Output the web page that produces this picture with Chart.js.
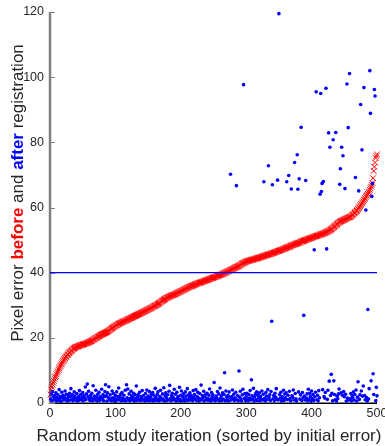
<!DOCTYPE html>
<html>
<head>
<meta charset="utf-8">
<script src="https://cdn.jsdelivr.net/npm/chart.js@4.4.1/dist/chart.umd.min.js"></script>
<style>
  html, body { margin: 0; padding: 0; background: #ffffff; }
  #c { display: block; }
</style>
</head>
<body>
<canvas id="c" width="385" height="446"></canvas>
<script>
// ---------------- DATA ----------------
const xTickValues = [0, 100, 200, 300, 400, 500];
const yTickValues = [0, 20, 40, 60, 80, 100, 120];
const thresholdError = 40;

// Pixel error before registration (sorted ascending), iteration 1..500
const beforeErrors = [
  2.6, 4.0, 4.9, 5.6, 6.2, 6.8, 7.4, 7.9, 8.2, 8.8,
  9.3, 9.7, 10.2, 10.6, 11.0, 11.4, 11.8, 12.1, 12.5, 12.9,
  13.2, 13.5, 13.8, 14.1, 14.3, 14.6, 14.8, 15.0, 15.3, 15.5,
  15.7, 15.9, 16.1, 16.3, 16.5, 16.7, 16.8, 16.9, 17.1, 17.2,
  17.3, 17.3, 17.4, 17.5, 17.6, 17.7, 17.7, 17.8, 17.9, 17.9,
  18.0, 18.1, 18.1, 18.2, 18.3, 18.4, 18.4, 18.5, 18.6, 18.7,
  18.8, 18.9, 19.0, 19.1, 19.3, 19.4, 19.5, 19.6, 19.8, 19.9,
  20.0, 20.1, 20.3, 20.4, 20.5, 20.6, 20.8, 20.9, 21.0, 21.1,
  21.2, 21.3, 21.4, 21.5, 21.6, 21.7, 21.8, 21.9, 22.1, 22.2,
  22.4, 22.5, 22.7, 22.8, 23.0, 23.1, 23.3, 23.4, 23.5, 23.7,
  23.8, 23.9, 24.0, 24.2, 24.3, 24.4, 24.5, 24.6, 24.7, 24.8,
  24.9, 25.0, 25.0, 25.1, 25.2, 25.3, 25.4, 25.5, 25.6, 25.7,
  25.8, 25.9, 26.0, 26.1, 26.2, 26.3, 26.4, 26.5, 26.6, 26.7,
  26.8, 26.9, 27.0, 27.1, 27.2, 27.3, 27.4, 27.5, 27.6, 27.7,
  27.8, 27.9, 28.0, 28.1, 28.2, 28.3, 28.4, 28.5, 28.6, 28.7,
  28.8, 28.9, 29.0, 29.1, 29.2, 29.3, 29.4, 29.6, 29.7, 29.8,
  29.9, 30.0, 30.1, 30.2, 30.4, 30.5, 30.7, 30.8, 31.0, 31.1,
  31.3, 31.4, 31.5, 31.7, 31.8, 31.9, 32.1, 32.2, 32.3, 32.4,
  32.5, 32.6, 32.7, 32.8, 32.9, 33.0, 33.1, 33.1, 33.2, 33.3,
  33.4, 33.5, 33.6, 33.7, 33.8, 33.9, 34.0, 34.1, 34.2, 34.3,
  34.4, 34.5, 34.6, 34.7, 34.8, 34.9, 35.0, 35.1, 35.2, 35.3,
  35.4, 35.5, 35.6, 35.7, 35.8, 35.9, 35.9, 36.0, 36.1, 36.2,
  36.3, 36.4, 36.5, 36.5, 36.6, 36.7, 36.8, 36.9, 36.9, 37.0,
  37.1, 37.1, 37.2, 37.3, 37.4, 37.4, 37.5, 37.6, 37.7, 37.7,
  37.8, 37.9, 38.0, 38.0, 38.1, 38.2, 38.3, 38.3, 38.4, 38.5,
  38.6, 38.6, 38.7, 38.8, 38.9, 39.0, 39.0, 39.1, 39.2, 39.3,
  39.4, 39.4, 39.5, 39.6, 39.7, 39.8, 39.9, 40.0, 40.1, 40.2,
  40.3, 40.4, 40.5, 40.6, 40.7, 40.8, 40.9, 41.0, 41.1, 41.2,
  41.3, 41.4, 41.5, 41.6, 41.7, 41.8, 41.9, 42.0, 42.1, 42.3,
  42.4, 42.5, 42.7, 42.8, 42.9, 43.0, 43.1, 43.2, 43.3, 43.4,
  43.5, 43.5, 43.6, 43.7, 43.7, 43.8, 43.9, 43.9, 44.0, 44.0,
  44.1, 44.1, 44.2, 44.3, 44.3, 44.4, 44.4, 44.5, 44.6, 44.6,
  44.7, 44.8, 44.8, 44.9, 45.0, 45.0, 45.1, 45.2, 45.2, 45.3,
  45.4, 45.4, 45.5, 45.6, 45.6, 45.7, 45.8, 45.8, 45.9, 46.0,
  46.0, 46.1, 46.2, 46.3, 46.3, 46.4, 46.5, 46.6, 46.6, 46.7,
  46.8, 46.9, 46.9, 47.0, 47.1, 47.2, 47.3, 47.3, 47.4, 47.5,
  47.6, 47.7, 47.8, 47.8, 47.9, 48.0, 48.1, 48.2, 48.3, 48.4,
  48.4, 48.5, 48.6, 48.7, 48.8, 48.8, 48.9, 49.0, 49.1, 49.2,
  49.2, 49.3, 49.4, 49.5, 49.6, 49.6, 49.7, 49.8, 49.9, 50.0,
  50.0, 50.1, 50.2, 50.3, 50.3, 50.4, 50.5, 50.6, 50.6, 50.7,
  50.8, 50.9, 50.9, 51.0, 51.1, 51.2, 51.2, 51.3, 51.4, 51.4,
  51.5, 51.6, 51.7, 51.7, 51.8, 51.9, 51.9, 52.0, 52.1, 52.2,
  52.3, 52.4, 52.5, 52.6, 52.7, 52.8, 52.9, 53.0, 53.2, 53.3,
  53.5, 53.7, 53.8, 54.0, 54.2, 54.4, 54.5, 54.7, 54.9, 55.1,
  55.3, 55.4, 55.6, 55.7, 55.8, 55.9, 56.0, 56.1, 56.2, 56.3,
  56.4, 56.5, 56.6, 56.7, 56.8, 56.9, 57.0, 57.0, 57.1, 57.2,
  57.4, 57.6, 57.8, 58.0, 58.2, 58.4, 58.6, 58.8, 59.0, 59.2,
  59.5, 59.8, 60.1, 60.4, 60.7, 61.0, 61.3, 61.6, 61.9, 62.3,
  62.6, 62.9, 63.3, 63.6, 63.9, 64.2, 64.6, 64.9, 65.4, 65.9,
  66.4, 66.9, 67.5, 69.0, 71.2, 72.5, 73.8, 75.2, 75.8, 76.3
];

// Pixel error after registration, typical (small) values, iteration 1..500
const afterErrorsTypical = [
  1.2, 2.8, 0.7, 3.5, 1.9, 0.9, 2.3, 1.4, 3.1, 0.6, 1.7, 2.6, 0.8, 4.1, 1.3, 2.0, 0.5, 3.3, 1.6, 2.4,
  0.9, 1.8, 3.7, 1.1, 2.7, 0.6, 1.5, 2.2, 0.8, 3.0, 1.9, 4.4, 1.0, 2.5, 0.7, 1.6, 3.4, 2.1, 1.2, 0.8,
  2.9, 1.4, 0.6, 2.0, 3.8, 1.1, 2.6, 0.9, 1.7, 3.2, 0.7, 2.3, 1.5, 4.9, 1.0, 2.8, 5.8, 1.9, 3.6, 1.3,
  0.8, 2.4, 1.6, 3.0, 0.7, 5.3, 1.2, 2.1, 0.9, 3.9, 1.8, 0.6, 2.7, 1.4, 3.3, 0.8, 2.0, 1.1, 4.2, 1.5,
  2.6, 0.7, 1.9, 3.5, 5.6, 2.2, 0.6, 3.1, 1.7, 5.0, 0.9, 2.5, 1.3, 0.7, 3.7, 1.6, 2.9, 0.8, 1.4, 2.3,
  0.6, 3.4, 1.2, 2.0, 4.6, 0.9, 1.8, 2.7, 0.7, 3.2, 1.5, 0.8, 2.4, 1.1, 3.9, 0.6, 5.6, 1.6, 4.3, 1.0,
  2.8, 0.7, 1.4, 3.6, 2.2, 0.9, 1.7, 3.0, 0.6, 2.5, 1.3, 5.2, 0.8, 1.9, 2.6, 1.1, 3.3, 0.7, 2.0, 1.5,
  3.8, 0.9, 2.3, 1.2, 0.6, 2.9, 1.6, 4.0, 0.8, 2.1, 1.4, 3.5, 0.7, 1.8, 2.7, 1.0, 3.2, 0.6, 2.4, 1.3,
  4.5, 1.7, 0.8, 2.6, 3.4, 1.1, 0.7, 2.0, 3.9, 1.5, 0.9, 2.8, 1.2, 4.7, 0.6, 2.2, 3.1, 1.6, 0.8, 2.5,
  1.0, 3.6, 5.4, 1.4, 0.7, 2.3, 3.0, 1.8, 0.9, 4.2, 1.2, 2.7, 0.6, 3.3, 1.5, 2.0, 0.8, 4.8, 1.1, 2.4,
  3.7, 0.7, 1.9, 2.8, 1.3, 0.6, 3.4, 2.1, 1.0, 4.4, 0.8, 2.5, 1.6, 3.1, 0.9, 2.2, 1.4, 0.7, 3.8, 1.7,
  2.6, 1.1, 4.1, 0.8, 2.0, 3.3, 1.5, 0.6, 2.9, 1.2, 5.5, 0.9, 2.3, 1.7, 3.6, 0.7, 1.9, 2.7, 1.0, 3.0,
  1.4, 0.8, 2.4, 4.3, 1.1, 0.6, 3.2, 1.8, 2.5, 0.9, 6.3, 1.3, 0.7, 2.1, 1.6, 3.5, 1.0, 2.8, 0.6, 4.6,
  1.5, 2.2, 0.8, 3.1, 1.2, 2.6, 1.4, 0.7, 3.7, 1.9, 1.1, 2.4, 0.6, 3.4, 1.7, 2.3, 0.9, 2.0, 4.0, 1.3,
  2.7, 0.8, 1.6, 3.3, 1.5, 1.0, 2.3, 0.7, 1.8, 1.8, 3.6, 1.2, 0.6, 2.5, 4.2, 2.1, 1.4, 2.9, 0.8, 2.0,
  3.0, 1.1, 0.7, 2.6, 1.5, 3.8, 0.9, 1.6, 2.2, 1.3, 4.5, 0.6, 1.9, 2.8, 1.0, 3.4, 0.8, 2.4, 1.6, 3.1,
  0.7, 2.0, 1.2, 3.7, 0.9, 2.7, 1.8, 1.4, 0.6, 3.2, 2.1, 1.0, 4.1, 2.2, 1.7, 2.5, 0.8, 3.5, 1.1, 1.9,
  1.3, 2.3, 0.7, 3.0, 1.8, 4.4, 1.1, 2.4, 0.9, 1.5, 2.6, 1.5, 3.3, 0.6, 2.0, 1.2, 3.9, 0.8, 2.8, 1.6,
  3.1, 2.0, 1.0, 2.4, 1.3, 3.6, 1.4, 0.7, 2.1, 2.2, 1.8, 4.0, 0.9, 1.5, 2.9, 1.3, 0.6, 2.7, 1.1, 3.4,
  1.9, 1.2, 2.5, 0.8, 0.8, 3.2, 1.7, 2.3, 2.1, 0.9, 1.6, 1.5, 2.8, 0.7, 4.2, 1.1, 3.0, 2.0, 0.6, 3.7,
  1.4, 2.6, 0.8, 3.5, 1.9, 3.3, 1.2, 1.0, 2.4, 0.7, 3.8, 1.6, 2.2, 0.9, 2.9, 1.3, 4.1, 0.6, 2.0, 1.5,
  3.2, 0.8, 2.5, 1.1, 3.9, 1.7, 6.7, 0.9, 2.3, 1.4, 3.0, 0.7, 1.8, 6.8, 2.6, 1.0, 3.6, 0.6, 2.1, 1.3,
  2.8, 4.3, 0.8, 1.6, 3.1, 1.0, 2.4, 0.7, 3.5, 1.9, 1.2, 2.7, 0.6, 3.8, 1.5, 2.0, 0.9, 4.6, 1.3, 2.9,
  0.7, 2.2, 1.6, 3.4, 0.9, 2.6, 1.2, 4.0, 0.6, 1.8, 6.5, 3.0, 1.1, 2.5, 0.8, 3.7, 1.4, 2.1, 5.2, 0.7,
  2.3, 1.0, 3.3, 1.7, 0.6, 2.8, 1.2, 4.4, 0.9, 2.0, 6.8, 1.5, 3.1, 0.8, 2.6, 1.1, 3.9, 0.7, 4.8, 2.2
];

// Iterations (0-based index) where the registration failed or was poor, with their error
const afterOutlierIndex = [
  266, 275, 284, 288, 295, 307, 326, 333, 338, 339,
  347, 349, 361, 364, 368, 373, 377, 378, 380, 383,
  387, 390, 403, 406, 412, 413, 414, 415, 417, 421,
  422, 425, 427, 429, 432, 436, 442, 443, 445, 447,
  450, 453, 455, 457, 466, 471, 474, 476, 479, 482,
  485, 488, 489, 491, 492, 493, 495, 496
];
const afterOutlierError = [
  9.3, 70.2, 66.7, 9.8, 97.7, 7.1, 67.9, 72.8, 25.1, 67.0,
  68.4, 119.5, 67.9, 69.8, 65.7, 73.8, 76.2, 65.6, 68.8, 84.6,
  26.9, 68.3, 47.0, 95.5, 64.1, 95.0, 64.9, 67.4, 68.0, 96.6,
  47.3, 82.9, 78.5, 8.8, 80.8, 83.0, 67.1, 71.9, 78.5, 75.9,
  65.8, 97.9, 84.5, 101.1, 69.2, 65.1, 91.6, 77.7, 96.8, 59.2,
  28.7, 102.0, 88.9, 63.4, 67.4, 9.0, 96.2, 94.2
];

// ---------------- BUILD ----------------
const afterErrors = afterErrorsTypical.slice();
afterOutlierIndex.forEach((idx, k) => { afterErrors[idx] = afterOutlierError[k]; });

const beforePoints = beforeErrors.map((v, i) => ({ x: i + 1, y: v }));
const afterPoints = afterErrors.map((v, i) => ({ x: i + 1, y: v }));
const thresholdPoints = [{ x: xTickValues[0], y: thresholdError }, { x: xTickValues[xTickValues.length - 1], y: thresholdError }];

const FONT = '"Liberation Sans", Arial, Helvetica, sans-serif';
const TEXT = '#262626';

const axesPlugin = {
  id: 'matlabAxes',
  beforeDatasetsDraw(chart) {
    const { ctx, chartArea: a, scales: { x, y } } = chart;
    ctx.save();
    // bottom axis (black)
    ctx.strokeStyle = '#000000';
    ctx.lineWidth = 1.5;
    ctx.beginPath();
    ctx.moveTo(a.left, a.bottom + 0.25);
    ctx.lineTo(a.right, a.bottom + 0.25);
    ctx.stroke();
    ctx.lineWidth = 1;
    x.ticks.forEach((t, i) => {
      const px = Math.round(x.getPixelForTick(i)) - 0.5;
      ctx.beginPath();
      ctx.moveTo(px, a.bottom);
      ctx.lineTo(px, a.bottom - 4);
      ctx.stroke();
    });
    // left axis (grey)
    ctx.strokeStyle = '#7f7f7f';
    ctx.lineWidth = 2.5;
    ctx.beginPath();
    ctx.moveTo(a.left, a.top);
    ctx.lineTo(a.left, a.bottom + 1);
    ctx.stroke();
    ctx.lineWidth = 1;
    y.ticks.forEach((t, i) => {
      const py = Math.round(y.getPixelForTick(i)) + 0.5;
      ctx.beginPath();
      ctx.moveTo(a.left, py);
      ctx.lineTo(a.left + 5, py);
      ctx.stroke();
    });
    ctx.restore();
  },
  afterDraw(chart) {
    const { ctx } = chart;
    ctx.save();
    // x axis title
    ctx.fillStyle = TEXT;
    ctx.font = '17px ' + FONT;
    ctx.textAlign = 'center';
    ctx.textBaseline = 'middle';
    ctx.fillText('Random study iteration (sorted by initial error)', 209, 436);
    // y axis title with coloured words
    const parts = [
      { t: 'Pixel error ', f: '17px ' + FONT, c: TEXT },
      { t: 'before', f: 'bold 17px ' + FONT, c: '#ff0000' },
      { t: ' and ', f: '17px ' + FONT, c: TEXT },
      { t: 'after', f: 'bold 17px ' + FONT, c: '#0000ff' },
      { t: ' registration', f: '17px ' + FONT, c: TEXT }
    ];
    let total = 0;
    parts.forEach(p => { ctx.font = p.f; p.w = ctx.measureText(p.t).width; total += p.w; });
    ctx.translate(18, 193);
    ctx.rotate(-Math.PI / 2);
    ctx.textAlign = 'left';
    let cx = -total / 2;
    parts.forEach(p => {
      ctx.font = p.f;
      ctx.fillStyle = p.c;
      ctx.fillText(p.t, cx, 0);
      cx += p.w;
    });
    ctx.restore();
  }
};

new Chart(document.getElementById('c'), {
  type: 'scatter',
  data: {
    datasets: [
      {
        type: 'line',
        data: thresholdPoints,
        borderColor: '#0000ff',
        borderWidth: 1.3,
        pointRadius: 0,
        showLine: true,
        clip: false
      },
      {
        data: afterPoints,
        pointStyle: 'circle',
        pointRadius: 1.8,
        backgroundColor: '#0000ff',
        borderWidth: 0,
        clip: false
      },
      {
        data: beforePoints,
        pointStyle: 'crossRot',
        pointRadius: 4,
        borderColor: '#ff0000',
        backgroundColor: '#ff0000',
        borderWidth: 1,
        clip: false
      }
    ]
  },
  options: {
    responsive: false,
    devicePixelRatio: 1,
    animation: false,
    events: [],
    layout: { padding: { top: 12, right: 8, left: 0, bottom: 0 } },
    plugins: { legend: { display: false }, tooltip: { enabled: false } },
    scales: {
      x: {
        type: 'linear',
        min: 0,
        max: 500,
        afterBuildTicks: s => { s.ticks = xTickValues.map(v => ({ value: v })); },
        grid: { display: false, drawTicks: false, tickLength: 0 },
        border: { display: false },
        ticks: { color: TEXT, font: { family: FONT, size: 12.5 }, padding: 3, maxRotation: 0 },
        afterFit: s => { s.height = 43; s.paddingLeft = 0; s.paddingRight = 0; }
      },
      y: {
        type: 'linear',
        min: 0,
        max: 120,
        afterBuildTicks: s => { s.ticks = yTickValues.map(v => ({ value: v })); },
        grid: { display: false, drawTicks: false, tickLength: 0 },
        border: { display: false },
        ticks: { color: TEXT, font: { family: FONT, size: 12.5 }, padding: 6 },
        afterFit: s => { s.width = 50; s.paddingTop = 0; s.paddingBottom = 0; }
      }
    }
  },
  plugins: [axesPlugin]
});
</script>
</body>
</html>
